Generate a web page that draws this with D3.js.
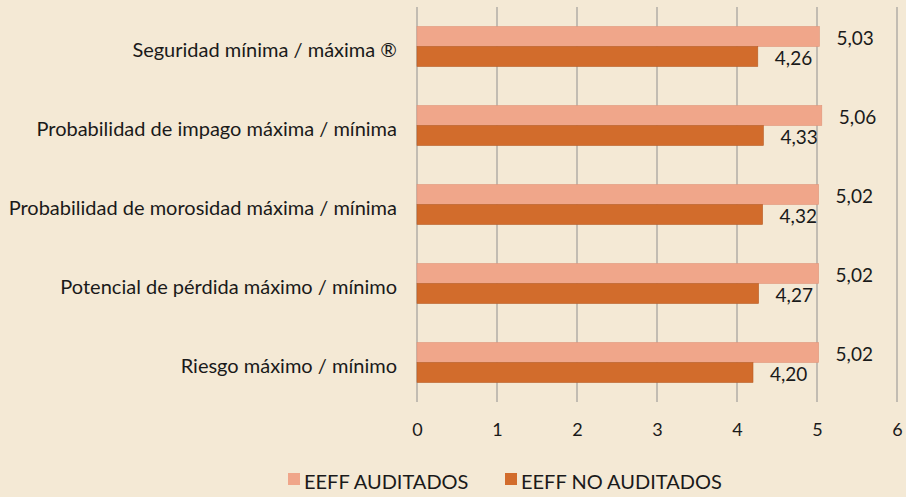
<!DOCTYPE html>
<html>
<head>
<meta charset="utf-8">
<script src="https://cdn.jsdelivr.net/npm/d3@7"></script>
<style>
body { margin: 0; background: #f4e9d5; }
svg { display: block; font-family: 'Lato', sans-serif; }
</style>
</head>
<body>
<script>
var categories = [
	'Seguridad mínima / máxima ®',
	'Probabilidad de impago máxima / mínima',
	'Probabilidad de morosidad máxima / mínima',
	'Potencial de pérdida máximo / mínimo',
	'Riesgo máximo / mínimo'
]
var auditados = [5.03, 5.06, 5.02, 5.02, 5.02]
var noAuditados = [4.26, 4.33, 4.32, 4.27, 4.20]
var seriesNames = ['EEFF AUDITADOS', 'EEFF NO AUDITADOS']
var seriesColors = ['#f0a68a', '#d26c2c']
var xTicks = [0, 1, 2, 3, 4, 5, 6]

var width = 906, height = 497

var svg = d3.select('body').append('svg')
	.attr('width', width)
	.attr('height', height)

svg.append('rect')
	.attr('width', width)
	.attr('height', height)
	.style('fill', '#f4e9d5')

var x = d3.scaleLinear().domain([0, 6]).range([417, 897])
var y = d3.scaleBand().domain(categories).range([7, 402]).paddingInner(0).paddingOuter(0)
var sub = d3.scaleBand().domain([0, 1]).range([0, 40])

// gridlines
svg.append('g').selectAll('line').data(xTicks).enter().append('line')
	.attr('x1', function(d){ return x(d) })
	.attr('x2', function(d){ return x(d) })
	.attr('y1', 7)
	.attr('y2', 402)
	.style('stroke', '#c2bcb2')
	.style('stroke-width', 2)

// x axis labels
var xAxis = d3.axisBottom(x).tickValues(xTicks).tickSize(0).tickPadding(0)
	.tickFormat(d3.format('d'))
var gx = svg.append('g').attr('transform', 'translate(0,423)').call(xAxis)
gx.select('.domain').remove()
gx.selectAll('text')
	.style('font-family', 'Lato, sans-serif')
	.style('font-size', '18px')
	.style('fill', '#1a1a1a')

var rows = categories.map(function(c, i){
	return { cat: c, vals: [auditados[i], noAuditados[i]] }
})

var groups = svg.selectAll('.grp').data(rows).enter().append('g')
	.attr('class', 'grp')
	.attr('transform', function(d){ return 'translate(0,' + (y(d.cat) + (y.bandwidth() - 40) / 2) + ')' })

groups.selectAll('rect').data(function(d){ return d.vals }).enter().append('rect')
	.attr('x', x(0))
	.attr('y', function(d, i){ return sub(i) })
	.attr('width', function(d){ return x(d) - x(0) })
	.attr('height', sub.bandwidth())
	.style('fill', function(d, i){ return seriesColors[i] })
	.style('stroke', function(d, i){ return i == 0 ? '#e0957a' : '#b85e27' })
	.style('stroke-width', 0.6)

groups.selectAll('text.val').data(function(d){ return d.vals }).enter().append('text')
	.attr('class', 'val')
	.attr('x', function(d){ return x(d) + 17 })
	.attr('y', function(d, i){ return sub(i) + sub.bandwidth() / 2 + 2 })
	.attr('dy', '0.35em')
	.text(function(d){ return d3.format('.2f')(d).replace('.', ',') })
	.style('font-size', '19px')
	.style('fill', '#1a1a1a')

// category labels
svg.append('g').selectAll('text').data(categories).enter().append('text')
	.attr('x', 397)
	.attr('y', function(d){ return y(d) + y.bandwidth() / 2 + 3 })
	.attr('dy', '0.35em')
	.attr('text-anchor', 'end')
	.text(function(d){ return d })
	.style('font-size', '20px')
	.style('fill', '#1a1a1a')

// legend
var legendX = [288, 505]
var legend = svg.selectAll('.leg').data(seriesNames).enter().append('g')
	.attr('class', 'leg')
	.attr('transform', function(d, i){ return 'translate(' + legendX[i] + ',473)' })
legend.append('rect')
	.attr('width', 12)
	.attr('height', 12)
	.style('fill', function(d, i){ return seriesColors[i] })
legend.append('text')
	.attr('x', 16)
	.attr('y', 8)
	.attr('dy', '0.38em')
	.text(function(d){ return d })
	.style('font-size', '20px')
	.style('fill', '#1a1a1a')
</script>
</body>
</html>
